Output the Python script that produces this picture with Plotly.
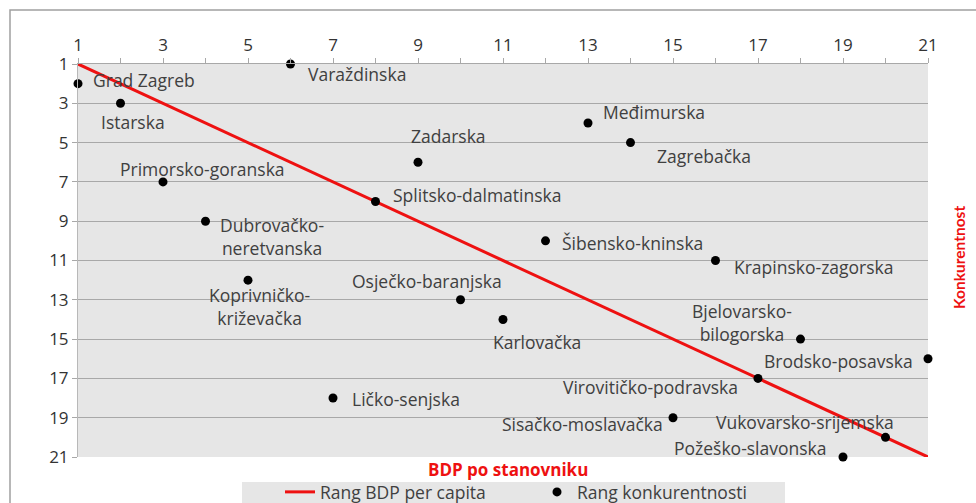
import plotly.graph_objects as go

# ---- data ----
counties = ["Grad Zagreb", "Varaždinska", "Istarska", "Međimurska", "Zagrebačka",
            "Zadarska", "Primorsko-goranska", "Splitsko-dalmatinska",
            "Dubrovačko-<br>neretvanska", "Šibensko-kninska", "Krapinsko-zagorska",
            "Koprivničko-<br>križevačka", "Osječko-baranjska", "Karlovačka",
            "Bjelovarsko-<br>bilogorska", "Brodsko-posavska", "Virovitičko-podravska",
            "Ličko-senjska", "Sisačko-moslavačka", "Vukovarsko-srijemska",
            "Požeško-slavonska"]
bdp_rank = [1, 6, 2, 13, 14, 9, 3, 8, 4, 12, 16, 5, 10, 11, 18, 21, 17, 7, 15, 20, 19]
konk_rank = [2, 1, 3, 4, 5, 6, 7, 8, 9, 10, 11, 12, 13, 14, 15, 16, 17, 18, 19, 20, 21]
line_x = [1, 21]
line_y = [1, 21]
x_ticks = list(range(1, 22))
x_ticktext = [str(v) if v % 2 == 1 else "" for v in x_ticks]
y_ticks = list(range(1, 22, 2))

# ---- label placement (styling: anchor, pixel offsets dx right, dy down) ----
label_style = {
    "Grad Zagreb": ("left", 13, -4),
    "Varaždinska": ("left", 15, 10),
    "Istarska": ("left", -22, 19),
    "Međimurska": ("left", 13, -11),
    "Zagrebačka": ("left", 24, 13),
    "Zadarska": ("left", -9, -26),
    "Primorsko-goranska": ("left", -45, -13),
    "Splitsko-dalmatinska": ("left", 15, -7),
    "Dubrovačko-<br>neretvanska": ("center", 66, 15),
    "Šibensko-kninska": ("left", 14, 2),
    "Krapinsko-zagorska": ("left", 16, 6),
    "Koprivničko-<br>križevačka": ("center", 11, 26),
    "Osječko-baranjska": ("left", -111, -19),
    "Karlovačka": ("left", -12, 23),
    "Bjelovarsko-<br>bilogorska": ("center", -59, -17),
    "Brodsko-posavska": ("right", -13, 2),
    "Virovitičko-podravska": ("right", -18, 9),
    "Ličko-senjska": ("left", 17, 1),
    "Sisačko-moslavačka": ("right", -8, 6),
    "Vukovarsko-srijemska": ("right", 10, -15),
    "Požeško-slavonska": ("right", -14, -9),
}

FONT = "Open Sans"
FS = 17.5
TXT = "#404040"
GRID = "#a8a8a8"


def px_x(p):
    return (p - 78) / 850


def px_y(p):
    return (457 - p) / 393


fig = go.Figure()
fig.add_trace(go.Scatter(
    x=line_x, y=line_y, mode="lines", name="Rang BDP per capita",
    line=dict(color="#ee1111", width=3), cliponaxis=False, hoverinfo="skip"))
fig.add_trace(go.Scatter(
    x=bdp_rank, y=konk_rank, mode="markers", name="Rang konkurentnosti",
    marker=dict(color="black", size=9), cliponaxis=False,
    text=counties, hovertemplate="%{text}<extra></extra>"))

annotations = []
for name, xv, yv in zip(counties, bdp_rank, konk_rank):
    anchor, dx, dy = label_style[name]
    annotations.append(dict(
        x=xv, y=yv, xref="x", yref="y", text=name, showarrow=False,
        xanchor=anchor, yanchor="middle", xshift=dx, yshift=-dy,
        align="center", font=dict(family=FONT, size=FS, color=TXT)))

annotations.append(dict(
    x=px_x(508), y=px_y(469), xref="paper", yref="paper",
    text="<b>BDP po stanovniku</b>", showarrow=False,
    xanchor="center", yanchor="middle",
    font=dict(family=FONT, size=17, color="#ee1111")))
annotations.append(dict(
    x=px_x(959), y=px_y(257), xref="paper", yref="paper",
    text="<b>Konkurentnost</b>", showarrow=False, textangle=-90,
    xanchor="center", yanchor="middle",
    font=dict(family="Lato", size=15.5, color="#ee1111")))

fig.update_layout(
    width=976, height=503,
    margin=dict(l=78, r=48, t=64, b=46, autoexpand=False),
    paper_bgcolor="white", plot_bgcolor="#e6e6e6",
    font=dict(family=FONT, size=FS, color=TXT),
    showlegend=True,
    legend=dict(orientation="h", x=px_x(280), y=px_y(474),
                xanchor="left", yanchor="top", bgcolor="rgba(0,0,0,0)",
                font=dict(family=FONT, size=FS, color=TXT),
                entrywidth=212, entrywidthmode="pixels", traceorder="normal"),
    annotations=annotations,
    shapes=[
        dict(type="rect", xref="paper", yref="paper",
             x0=px_x(10), x1=px_x(1000), y0=px_y(560), y1=px_y(10),
             line=dict(color="#a0a0a0", width=1.5), layer="below"),
        dict(type="rect", xref="paper", yref="paper",
             x0=px_x(242), x1=px_x(785), y0=px_y(510), y1=px_y(482),
             line=dict(width=0), fillcolor="#e6e6e6", layer="below"),
    ],
)
fig.update_xaxes(
    range=[1, 21], side="top", tickmode="array", tickvals=x_ticks, ticktext=x_ticktext,
    ticks="outside", ticklen=5, tickcolor=GRID, showgrid=False, zeroline=False,
    showline=True, linecolor=GRID, linewidth=1,
    tickfont=dict(family=FONT, size=17, color="#333333"))
fig.update_yaxes(
    range=[21, 1], tickmode="array", tickvals=y_ticks,
    ticks="outside", ticklen=5, tickcolor=GRID, showgrid=True, gridcolor=GRID,
    gridwidth=1, zeroline=False, showline=True, linecolor="#b8b8b8",
    tickfont=dict(family=FONT, size=17, color="#333333"))

fig.write_html("out.html", config={"displayModeBar": False},
               post_script="document.body.style.margin='0';document.body.style.overflow='hidden';")
